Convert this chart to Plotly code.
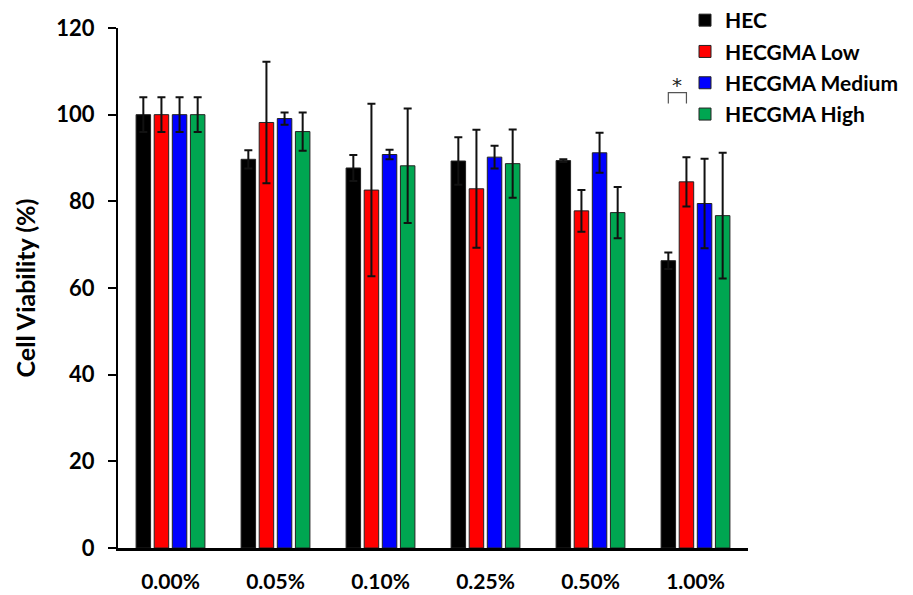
import plotly.graph_objects as go

concentrations = ["0.00%", "0.05%", "0.10%", "0.25%", "0.50%", "1.00%"]

hec = [100.0, 89.7, 87.7, 89.3, 89.4, 66.3]
hec_err = [4.0, 2.1, 3.0, 5.5, 0.3, 1.9]

low = [100.0, 98.2, 82.6, 82.9, 77.8, 84.5]
low_err = [4.0, 14.0, 19.9, 13.6, 4.8, 5.7]

medium = [100.0, 99.1, 90.8, 90.2, 91.2, 79.5]
medium_err = [4.0, 1.4, 1.1, 2.6, 4.6, 10.3]

high = [100.0, 96.1, 88.2, 88.7, 77.4, 76.7]
high_err = [4.0, 4.4, 13.2, 7.9, 5.9, 14.5]

series = [
    ("HEC", hec, hec_err, "#000000"),
    ("HECGMA Low", low, low_err, "#ff0000"),
    ("HECGMA Medium", medium, medium_err, "#0000ff"),
    ("HECGMA High", high, high_err, "#00a651"),
]

FONT = "Lato"
BARGAP = 0.31

fig = go.Figure()
for name, vals, errs, color in series:
    fig.add_trace(go.Bar(
        name=name,
        x=concentrations,
        y=vals,
        legendgroup=name,
        marker=dict(color=color, line=dict(color="#222222", width=1)),
        error_y=dict(type="data", array=errs, visible=True,
                     color="#111111", thickness=2, width=4),
    ))

# significance bracket between HEC and HECGMA Low at 1.00%
slot = (1 - BARGAP) / 4
x_hec = 5 - 1.5 * slot
x_low = 5 - 0.5 * slot
bracket_top = 105.1
bracket_leg = 102.6
fig.add_shape(type="path", xref="x", yref="y",
              path=f"M {x_hec} {bracket_leg} L {x_hec} {bracket_top} "
                   f"L {x_low} {bracket_top} L {x_low} {bracket_leg}",
              line=dict(color="#555555", width=1.2))
fig.add_annotation(x=(x_hec + x_low) / 2, y=bracket_top, xref="x", yref="y",
                   text="*", showarrow=False, yanchor="bottom", yshift=-6,
                   font=dict(family="DejaVu Sans", size=20, color="#222222"))

fig.update_layout(
    width=913, height=595,
    margin=dict(l=118, r=165, t=28, b=47, autoexpand=False),
    paper_bgcolor="white", plot_bgcolor="white",
    barmode="group", bargap=BARGAP, bargroupgap=0.2,
    font=dict(family=FONT, color="#000000"),
    showlegend=True,
    legend=dict(
        x=0.9, xanchor="left",
        yref="container", y=1.005, yanchor="top",
        traceorder="grouped", tracegroupgap=1,
        itemwidth=30,
        font=dict(family=FONT, size=21, color="#000000", weight="bold"),
        bgcolor="rgba(0,0,0,0)",
    ),
    xaxis=dict(
        type="category", range=[-0.5, 5.5], automargin=False,
        showline=True, linecolor="#000000", linewidth=2.5,
        ticks="", ticklabelstandoff=13,
        tickfont=dict(family=FONT, size=21, color="#000000", weight="bold"),
        showgrid=False, zeroline=False,
    ),
    yaxis=dict(
        range=[0, 120], tickvals=[0, 20, 40, 60, 80, 100, 120], automargin=False,
        showline=True, linecolor="#000000", linewidth=2,
        ticks="outside", ticklen=8, tickwidth=2, tickcolor="#000000",
        ticklabelstandoff=9,
        tickfont=dict(family=FONT, size=22, color="#000000", weight="bold"),
        showgrid=False, zeroline=False,
        title=dict(text="Cell Viability (%)", standoff=14,
                   font=dict(family=FONT, size=25, color="#000000", weight="bold")),
    ),
)

fig.write_html("out.html")
